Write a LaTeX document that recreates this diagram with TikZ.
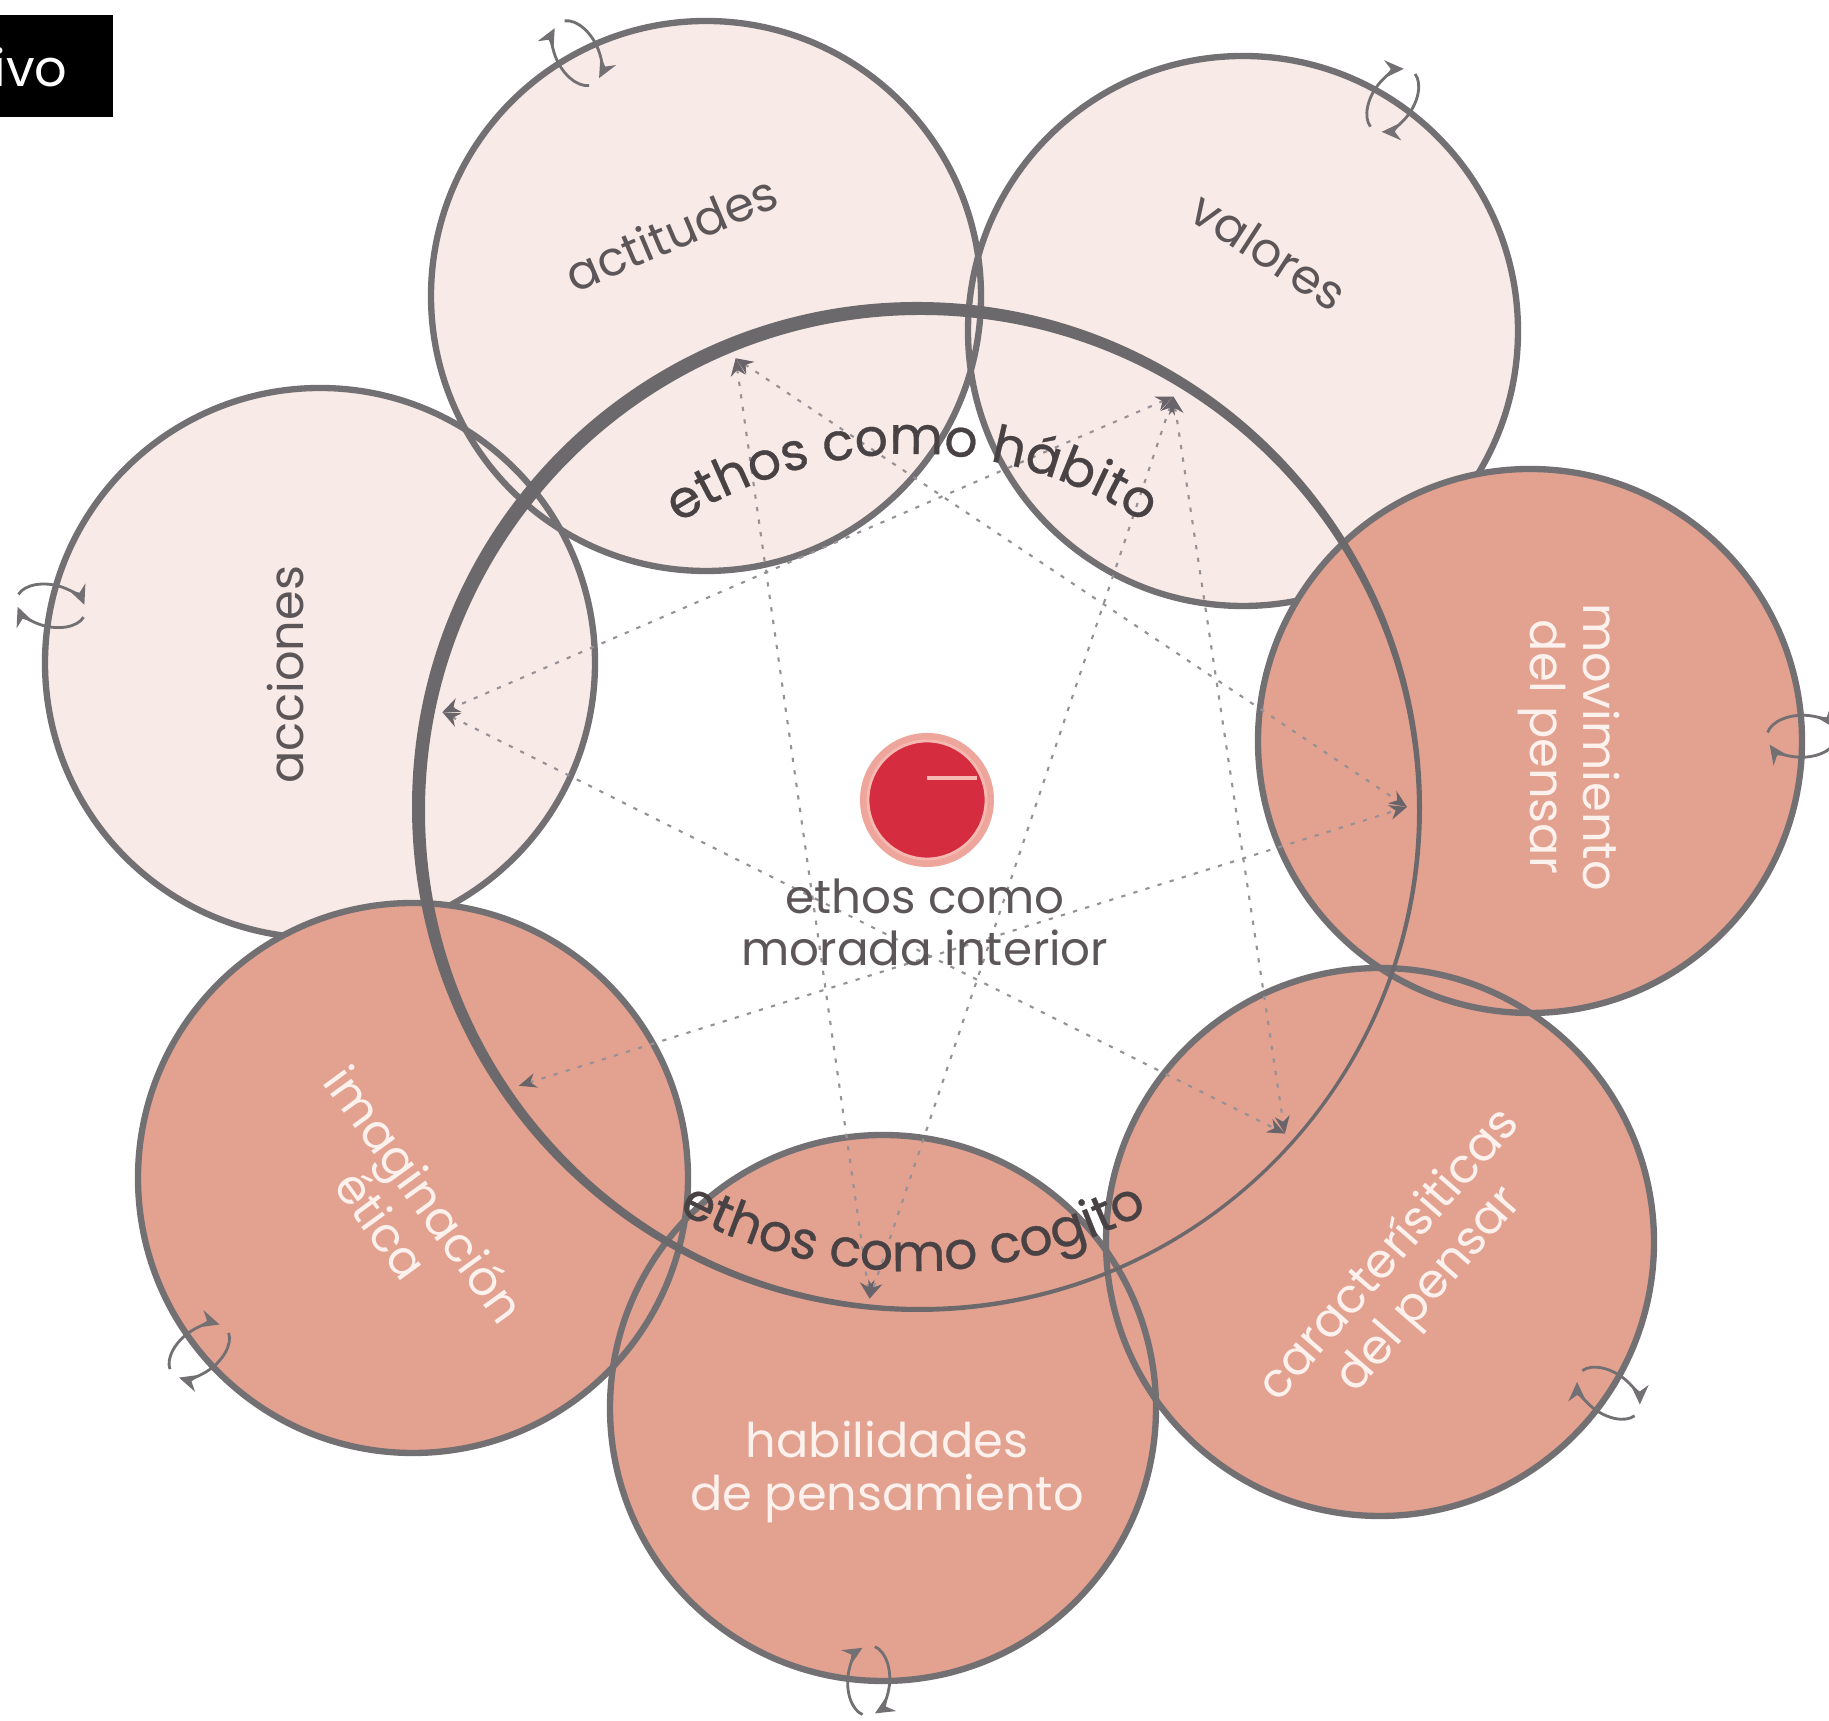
\documentclass[tikz,border=0pt]{standalone}
\usepackage{fontspec}
\setmainfont{Poppins}
\newfontfamily\ringfont[FakeBold=0.6]{Poppins}
\usetikzlibrary{arrows.meta,decorations.text}
\definecolor{lightpink}{RGB}{248,234,230}
\definecolor{salmon}{RGB}{227,161,144}
\definecolor{bordergray}{RGB}{115,112,116}
\definecolor{ringgray}{RGB}{108,105,109}
\definecolor{dottedgray}{RGB}{150,145,150}
\definecolor{tipgray}{RGB}{105,100,105}
\definecolor{darktext}{RGB}{92,86,89}
\definecolor{lighttext}{RGB}{252,241,237}
\definecolor{ringtext}{RGB}{72,66,69}
\definecolor{dotred}{RGB}{214,44,64}
\definecolor{halo}{RGB}{238,165,155}
\definecolor{innerline}{RGB}{245,185,178}
\begin{document}
\begin{tikzpicture}[x=0.01cm,y=0.01cm,
  lightfill/.style={fill=lightpink},
  darkfill/.style={fill=salmon},
  rim/.style={draw=bordergray,line width=1.8pt},
  starline/.style={draw=dottedgray,line width=0.6pt,dash pattern=on 1.2pt off 2.4pt,
     {Stealth[length=5pt,width=4.2pt,color=tipgray]}-{Stealth[length=5pt,width=4.2pt,color=tipgray]}},
  darklabel/.style={text=darktext,font=\fontsize{13.6}{15}\selectfont,align=center,inner sep=0pt},
  lightlabel/.style={text=lighttext,font=\fontsize{13.6}{15}\selectfont,align=center,inner sep=0pt},
  symarc/.style={draw=bordergray,line width=0.8pt,-{Stealth[length=5.5pt,width=5pt]}}
]
\useasboundingbox (0,0) rectangle (1829,1721);
\clip (0,0) rectangle (1829,1721);
\fill[white] (0,0) rectangle (1829,1721);

% circle centres
\coordinate (cAct) at (706,1425);
\coordinate (cVal) at (1243,1390);
\coordinate (cAcc) at (320,1058);
\coordinate (cMov) at (1530,980);
\coordinate (cCar) at (1380,479);
\coordinate (cHab) at (883,313);
\coordinate (cImg) at (413,543);
\coordinate (C) at (917,914);

% light circles
\fill[lightfill] (cAct) circle (275);
\fill[lightfill] (cVal) circle (275);
\fill[lightfill] (cAcc) circle (275);
\draw[rim] (cAct) circle (275);
\draw[rim] (cVal) circle (275);
\draw[rim] (cAcc) circle (275);
% dark circles
\fill[darkfill] (cMov) circle (272);
\fill[darkfill] (cCar) circle (274);
\fill[darkfill] (cHab) circle (273);
\fill[darkfill] (cImg) circle (275);
\draw[rim] (cMov) circle (272);
\draw[rim] (cCar) circle (274);
\draw[rim] (cHab) circle (273);
\draw[rim] (cImg) circle (275);

% star points
\path (C) ++(112:484) coordinate (P1);
\path (C) ++(58:484) coordinate (P2);
\path (C) ++(0:490) coordinate (P3);
\path (C) ++(-41.6:492) coordinate (P4);
\path (C) ++(264.5:494) coordinate (P5);
\path (C) ++(215:486) coordinate (P6);
\path (C) ++(168.7:484) coordinate (P7);

\draw[starline] (P1) -- (P3);
\draw[starline] (P1) -- (P5);
\draw[starline] (P2) -- (P7);
\draw[starline] (P2) -- (P5);
\draw[starline] (P2) -- (P4);
\draw[starline] (P7) -- (P4);
\draw[starline] (P6) -- (P3);

% big ring (crescent)
\fill[ringgray,even odd rule] (C) circle (505) (921,910) circle (496);

% centre dot
\coordinate (dot) at (927,921);
\fill[halo] (dot) circle (67);
\fill[dotred] (dot) circle (58);
\draw[innerline,line width=0.8pt] (dot) circle (59);
\draw[innerline,line width=1pt] (927,943) -- (977,943);

% ring texts
\path[decorate,decoration={text along path,text align=center,text color=ringtext,
  text={|\ringfont\fontsize{14.8}{16}\selectfont|ethos como hábito}}]
  (912,841) ++(150:426) arc[start angle=150,end angle=30,radius=426];
\path[decorate,decoration={text along path,text align=center,text color=ringtext,
  text={|\ringfont\fontsize{14.8}{16}\selectfont|ethos como cogito}}]
  (913,946) ++(210:496) arc[start angle=210,end angle=330,radius=496];

% labels
\node[darklabel,rotate=23] (lAct) at (671,1488) {actitudes};
\node[darklabel,rotate=-33] (lVal) at (1269,1470) {valores};
\node[darklabel,rotate=90] (lAcc) at (286,1046) {acciones};
\node[lightlabel,rotate=-90] (lMov) at (1569,974) {movimiento\\del pensar};
\node[lightlabel,rotate=49] (lCar) at (1410,448) {caracterísiticas\\del pensar};
\node[lightlabel] (lHab) at (887,249) {habilidades\\de pensamiento};
\node[lightlabel,rotate=-54] (lImg) at (404,512) {imaginación\\ética};
\node[text=darktext,font=\fontsize{13.3}{14.8}\selectfont,align=center,inner sep=0pt] (lCen) at (925,799) {ethos como\\morada interior};

% top-left box
\fill[black] (-10,1604) rectangle (113,1706);
\node[anchor=base east,text=white,font=\fontsize{14.5}{15}\selectfont,inner sep=0pt] (ivo) at (68,1634) {ivo};

% rotation symbols
\path (cAct) ++(118:275) coordinate (sAct);
\path (cVal) ++(57:275) coordinate (sVal);
\path (cMov) ++(1:272) coordinate (sMov);
\path (cCar) ++(-33.5:274) coordinate (sCar);
\path (cHab) ++(-93:273) coordinate (sHab);
\path (cImg) ++(219:275) coordinate (sImg);
\path (cAcc) ++(168:275) coordinate (sAcc);
\foreach \s/\a in {sAct/118,sVal/57,sMov/1,sCar/-33.5,sHab/-93,sImg/219,sAcc/168}{
  \begin{scope}[shift={(\s)},rotate=\a]
    \draw[symarc] (168:35 and 21) arc[start angle=168,end angle=22,x radius=35,y radius=21];
    \draw[symarc] (348:35 and 21) arc[start angle=348,end angle=202,x radius=35,y radius=21];
  \end{scope}
}
\end{tikzpicture}
\end{document}
